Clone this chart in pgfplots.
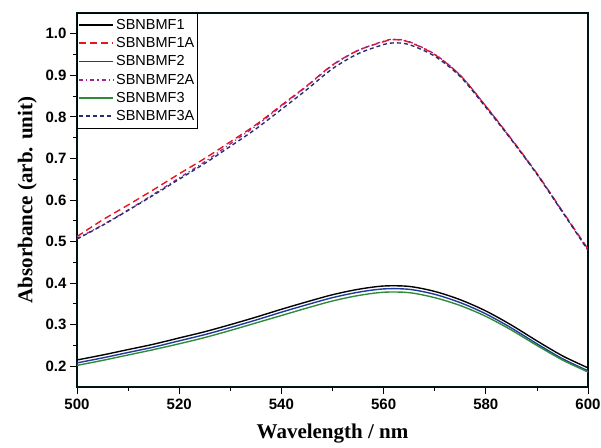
\documentclass[border=0pt]{standalone}
\usepackage{pgfplots}
\pgfplotsset{compat=1.18}
\usepackage{fontspec}
\setmainfont{Liberation Serif}
\newfontfamily\arialf{Liberation Sans}
\definecolor{cred}{HTML}{E8141E}
\definecolor{cblue}{HTML}{1F3A9A}
\definecolor{cpurple}{HTML}{A3218E}
\definecolor{cgreen}{HTML}{2E8B3A}
\definecolor{cnavy}{HTML}{262E6E}
\begin{document}
\begin{tikzpicture}[x=1bp,y=1bp]
\begin{axis}[
  name=ax,
  scale only axis,
  width=511bp, height=374bp,
  xmin=500, xmax=600, ymin=0.15, ymax=1.05,
  xtick={500,520,...,600},
  minor x tick num=1,
  ytick={0.2,0.3,...,1.0},
  minor y tick num=1,
  tick align=outside,
  xtick pos=bottom, ytick pos=left,
  major tick length=7bp, minor tick length=4bp,
  axis line style={line width=1.1pt, black!85!teal},
  tick style={line width=0.8pt, black},
  ticklabel style={font=\arialf\bfseries\fontsize{15bp}{17bp}\selectfont},
  xticklabel style={yshift=-2bp},
  /pgf/number format/assume math mode=true,
  yticklabel style={/pgf/number format/.cd, fixed, fixed zerofill, precision=1},
  xticklabel style={/pgf/number format/.cd, fixed, precision=0, 1000 sep={}},
  xlabel={Wavelength / nm},
  ylabel={Absorbance (arb. unit)},
  every axis x label/.append style={at={(axis description cs:0.5,-0.125)}, anchor=center},
  every axis y label/.append style={at={(axis description cs:-0.097,0.5)}, anchor=center, rotate=0},
  label style={font=\bfseries\fontsize{21bp}{23bp}\selectfont},
  legend style={at={(0,1)}, anchor=north west, font=\arialf\fontsize{14.5bp}{16bp}\selectfont,
    draw=black, line width=0.6pt, inner xsep=1bp, inner ysep=4bp, row sep=2.6bp, cells={anchor=west}},
  legend cell align=left,
  legend image code/.code={\draw[#1, line width=1.8pt] (-2bp,0bp) -- (32bp,0bp);},
]
\addplot[black, line width=1.4pt, smooth] coordinates {
(500,0.215)(505,0.227)(510,0.240)(515,0.253)(520,0.268)(525,0.283)(530,0.300)(535,0.318)(540,0.337)(545,0.355)(550,0.372)(555,0.385)(560,0.393)(565,0.392)(570,0.380)(575,0.360)(580,0.333)(585,0.299)(590,0.261)(595,0.225)(600,0.196)};
\addlegendentry{SBNBMF1}
\addplot[cred, line width=1.4pt, dash pattern=on 7bp off 4bp, smooth] coordinates {
(500,0.512)(505,0.552)(510,0.588)(515,0.625)(520,0.663)(525,0.700)(530,0.740)(535,0.781)(540,0.828)(545,0.875)(550,0.925)(555,0.960)(560,0.981)(562,0.986)(565,0.980)(570,0.950)(575,0.900)(580,0.826)(585,0.747)(590,0.664)(595,0.573)(600,0.482)};
\addlegendentry{SBNBMF1A}
\addplot[cblue, line width=1.4pt, smooth] coordinates {
(500,0.208)(505,0.220)(510,0.233)(515,0.246)(520,0.261)(525,0.276)(530,0.293)(535,0.311)(540,0.330)(545,0.348)(550,0.365)(555,0.378)(560,0.386)(565,0.385)(570,0.373)(575,0.353)(580,0.326)(585,0.292)(590,0.254)(595,0.218)(600,0.189)};
\addlegendentry{SBNBMF2}
\addplot[cpurple, line width=1.3pt, dash pattern=on 4bp off 3bp on 1.2bp off 3bp, smooth] coordinates {
(500,0.507)(505,0.540)(510,0.576)(515,0.614)(520,0.653)(525,0.692)(530,0.735)(535,0.778)(540,0.826)(545,0.874)(550,0.924)(555,0.960)(560,0.982)(562,0.987)(565,0.981)(570,0.951)(575,0.900)(580,0.826)(585,0.746)(590,0.663)(595,0.572)(600,0.480)};
\addlegendentry{SBNBMF2A}
\addplot[cgreen, line width=1.4pt, smooth] coordinates {
(500,0.202)(505,0.214)(510,0.227)(515,0.240)(520,0.254)(525,0.269)(530,0.286)(535,0.304)(540,0.322)(545,0.340)(550,0.357)(555,0.370)(560,0.378)(565,0.377)(570,0.365)(575,0.346)(580,0.320)(585,0.287)(590,0.250)(595,0.215)(600,0.186)};
\addlegendentry{SBNBMF3}
\addplot[cnavy, line width=1.4pt, dash pattern=on 4bp off 3bp, smooth] coordinates {
(500,0.506)(505,0.539)(510,0.575)(515,0.612)(520,0.650)(525,0.688)(530,0.729)(535,0.771)(540,0.818)(545,0.866)(550,0.916)(555,0.952)(560,0.974)(562,0.978)(565,0.974)(570,0.946)(575,0.897)(580,0.823)(585,0.745)(590,0.662)(595,0.571)(600,0.479)};
\addlegendentry{SBNBMF3A}
\end{axis}
\pgfresetboundingbox
\path[use as bounding box] ([shift={(-77bp,-61bp)}]ax.south west) rectangle ([shift={(13bp,13bp)}]ax.north east);
\end{tikzpicture}
\end{document}
